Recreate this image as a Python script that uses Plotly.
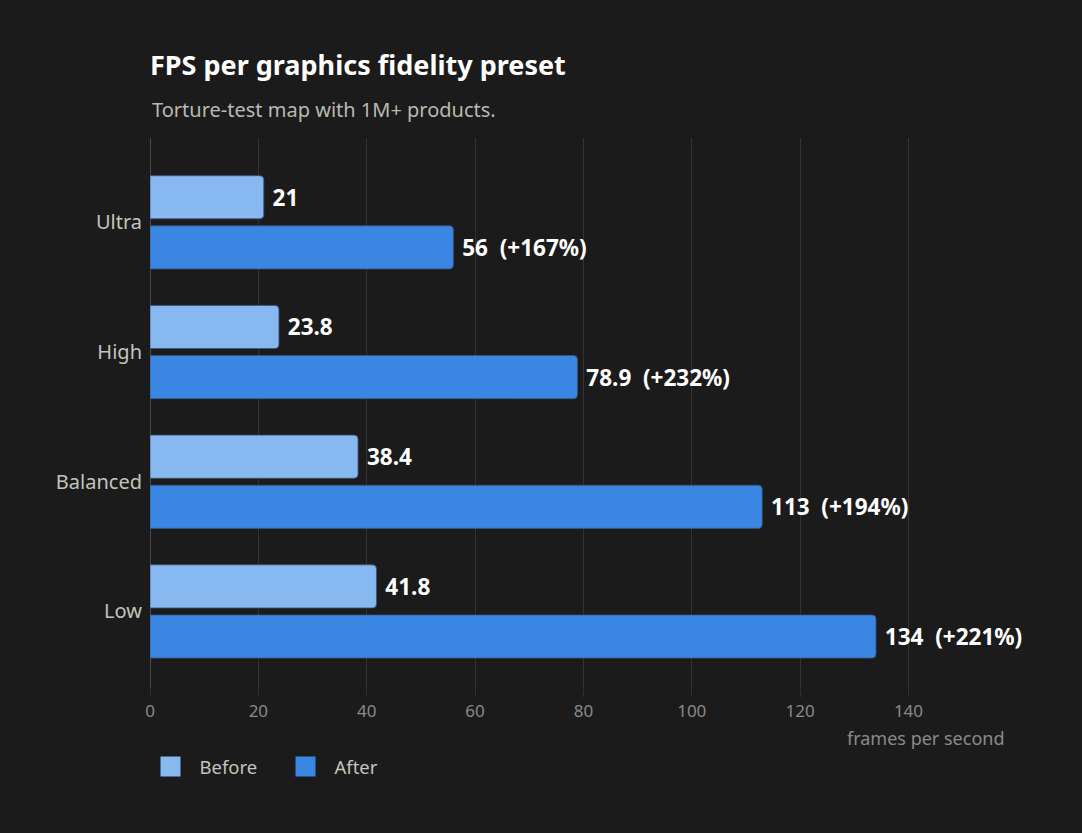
import plotly.graph_objects as go

# Dados
presets = ["Ultra", "High", "Balanced", "Low"]
fps_before = [21, 23.8, 38.4, 41.8]
fps_after = [56, 78.9, 113, 134]
gain_labels = ["+167%", "+232%", "+194%", "+221%"]
x_ticks = [0, 20, 40, 60, 80, 100, 120, 140]

BG = "#1b1b1b"
FONT = "Segoe UI, Noto Sans, sans-serif"
COLOR_BEFORE = "#88b8f0"
COLOR_AFTER = "#3a86e3"
OUTLINE = "rgba(60,85,120,0.8)"

before_text = [f"\u00a0{v:g}" for v in fps_before]
after_text = [f"\u00a0{v:g}\u00a0\u00a0({g})" for v, g in zip(fps_after, gain_labels)]

fig = go.Figure()
fig.add_trace(go.Bar(
    y=presets, x=fps_before, name="Before", orientation="h", showlegend=False,
    marker=dict(color=COLOR_BEFORE, line=dict(color=OUTLINE, width=1)),
    text=before_text, textposition="outside", constraintext="none", cliponaxis=False,
    textfont=dict(family=FONT, size=22.5, color="white", weight="bold"),
    hoverinfo="skip"
))
fig.add_trace(go.Bar(
    y=presets, x=fps_after, name="After", orientation="h", showlegend=False,
    marker=dict(color=COLOR_AFTER, line=dict(color=OUTLINE, width=1)),
    text=after_text, textposition="outside", constraintext="none", cliponaxis=False,
    textfont=dict(family=FONT, size=22.5, color="white", weight="bold"),
    hoverinfo="skip"
))

# Entradas da legenda com quadrados maiores
for name, color in [("Before", COLOR_BEFORE), ("After", COLOR_AFTER)]:
    fig.add_trace(go.Scatter(
        x=[None], y=[None], mode="markers", name=name,
        marker=dict(symbol="square", size=22, color=color, line=dict(color=color, width=4))
    ))

fig.update_layout(
    width=1082, height=833,
    paper_bgcolor=BG, plot_bgcolor=BG,
    margin=dict(l=150, r=76, t=138, b=145),
    font=dict(family=FONT, color="#c4c4bc"),
    title=dict(
        text="<b>FPS per graphics fidelity preset</b>",
        x=150 / 1082, xanchor="left", y=1 - 66 / 833, yanchor="middle",
        font=dict(family=FONT, size=27, color="white")
    ),
    barmode="group", bargap=0.227, bargroupgap=0.14, barcornerradius=4,
    xaxis=dict(
        range=[0, 158], tickvals=x_ticks, showgrid=True, gridcolor="#333333", gridwidth=1,
        zeroline=True, zerolinecolor="#4a4a4a", zerolinewidth=1,
        ticks="outside", ticklen=8, tickcolor="#333333",
        tickfont=dict(family=FONT, size=17, color="#8a8a8a"), showline=False
    ),
    yaxis=dict(
        categoryorder="array", categoryarray=presets, range=[3.59, -0.65],
        showgrid=False, zeroline=False, ticks="outside", ticklen=3, tickcolor=BG,
        tickfont=dict(family=FONT, size=20, color="#c4c4bc"), showline=False
    ),
    legend=dict(
        orientation="h", x=-8.5 / 856, xanchor="left", y=-0.1436, yanchor="middle",
        itemwidth=48, entrywidth=72, entrywidthmode="pixels", itemsizing="trace",
        font=dict(family=FONT, size=18.5, color="#c4c4bc"), bgcolor="rgba(0,0,0,0)"
    ),
    annotations=[
        dict(
            x=0, y=1.051, xref="paper", yref="paper", xanchor="left", yanchor="middle",
            text="Torture-test map with 1M+ products.", showarrow=False,
            font=dict(family=FONT, size=20, color="#b9b9b1")
        ),
        dict(
            x=1, y=-0.091, xref="paper", yref="paper", xanchor="right", yanchor="middle",
            text="frames per second", showarrow=False,
            font=dict(family=FONT, size=18, color="#8a8a8a")
        ),
    ]
)

fig.write_html(
    "out.html",
    config={"displayModeBar": False},
    post_script="document.body.style.margin='0';document.body.style.background='#1b1b1b';"
)
